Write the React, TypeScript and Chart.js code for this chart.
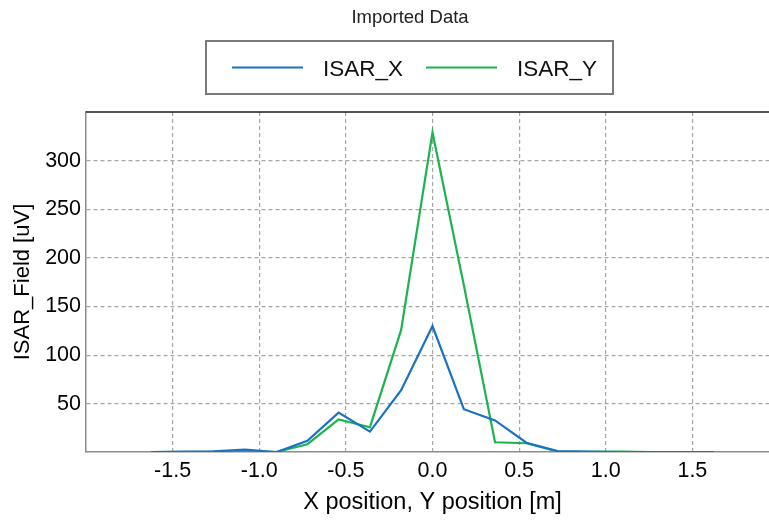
import React, { useEffect, useRef } from 'react';
import { Chart, registerables } from 'chart.js';

Chart.register(...registerables);

const chartTitle = 'Imported Data';
const seriesLabels = ['ISAR_X', 'ISAR_Y'];
const seriesColors = ['#1a72c2', '#1db34f'];
const xPositions = [-1.625, -1.444, -1.264, -1.083, -0.903, -0.722, -0.542, -0.361, -0.181, 0, 0.181, 0.361, 0.542, 0.722, 0.903, 1.083, 1.264, 1.444, 1.625];
const isarX = [0.5, 0.8, 1.2, 3.0, 0.3, 12, 41, 21.5, 64, 130, 44.5, 33, 10, 1.5, 0.8, 0.5, 0.4, 0.3, 0.3];
const isarY = [0.3, 0.5, 0.7, 1.5, 0.4, 8.5, 34, 26, 126, 329, 172, 10.5, 9.5, 1, 0.6, 0.8, 0.4, 0.3, 0.3];
const xTicks = [-1.5, -1.0, -0.5, 0.0, 0.5, 1.0, 1.5];
const yTicks = [50, 100, 150, 200, 250, 300];
const xTitle = 'X position, Y position [m]';
const yTitle = 'ISAR_Field [uV]';

const FONT = 'Arial, "Liberation Sans", sans-serif';

const framePlugin = {
  id: 'frameLegend',
  afterDraw(chart: any) {
    const ctx = chart.ctx;
    const a = chart.chartArea;
    ctx.save();
    // top frame line
    ctx.strokeStyle = '#1a1a1a';
    ctx.lineWidth = 1.5;
    ctx.beginPath();
    ctx.moveTo(a.left, a.top);
    ctx.lineTo(a.right, a.top);
    ctx.stroke();
    // title
    ctx.font = '18.5px ' + FONT;
    ctx.fillStyle = '#222';
    ctx.textAlign = 'center';
    ctx.textBaseline = 'alphabetic';
    ctx.fillText(chartTitle, 410, 22.5);
    // legend box
    ctx.strokeStyle = '#7a7a7a';
    ctx.lineWidth = 2;
    ctx.strokeRect(206, 41, 407, 53);
    // legend items
    ctx.font = '22.5px ' + FONT;
    ctx.textAlign = 'left';
    let x = 232;
    chart.data.datasets.forEach((ds: any) => {
      ctx.strokeStyle = ds.borderColor;
      ctx.lineWidth = 2.2;
      ctx.beginPath();
      ctx.moveTo(x, 67.5);
      ctx.lineTo(x + 71, 67.5);
      ctx.stroke();
      ctx.fillStyle = '#111';
      ctx.fillText(ds.label, x + 91, 75.5);
      x += 91 + ctx.measureText(ds.label).width + 23;
    });
    ctx.restore();
  },
};

export default function App() {
  const ref = useRef<HTMLCanvasElement>(null);
  useEffect(() => {
    if (!ref.current) return;
    const chart = new Chart(ref.current, {
      type: 'line',
      data: {
        datasets: [
          {
            label: seriesLabels[0],
            data: xPositions.map((x, i) => ({ x, y: isarX[i] })),
            borderColor: seriesColors[0],
            backgroundColor: seriesColors[0],
            borderWidth: 2.2,
            pointRadius: 0,
            tension: 0,
          },
          {
            label: seriesLabels[1],
            data: xPositions.map((x, i) => ({ x, y: isarY[i] })),
            borderColor: seriesColors[1],
            backgroundColor: seriesColors[1],
            borderWidth: 2.2,
            pointRadius: 0,
            tension: 0,
          },
        ],
      },
      options: {
        responsive: false,
        animation: false,
        layout: { padding: { top: 112, left: 0, right: 41, bottom: 0 } },
        plugins: {
          legend: { display: false },
          title: { display: false },
          tooltip: { enabled: false },
        },
        scales: {
          x: {
            type: 'linear',
            min: -2,
            max: 2,
            afterBuildTicks: (s: any) => {
              s.ticks = xTicks.map((v) => ({ value: v }));
            },
            afterFit: (s: any) => {
              s.height = 68;
            },
            ticks: {
              padding: 6,
              color: '#000',
              font: { size: 21.5, family: FONT },
              callback: (v: any) => Number(v).toFixed(1),
              maxRotation: 0,
            },
            grid: { color: '#a6a6a6', lineWidth: 1.2, drawTicks: false },
            border: { color: '#8c8c8c', width: 1.5, dash: [4, 3] },
            title: {
              display: true,
              text: xTitle,
              color: '#000',
              font: { size: 23.5, family: FONT },
              padding: { top: 0, bottom: 3 },
            },
          },
          y: {
            type: 'linear',
            min: 0.5,
            max: 350,
            afterBuildTicks: (s: any) => {
              s.ticks = yTicks.map((v) => ({ value: v }));
            },
            afterFit: (s: any) => {
              s.width = 86;
            },
            ticks: {
              padding: 5,
              color: '#000',
              font: { size: 21.5, family: FONT },
            },
            grid: { color: '#a6a6a6', lineWidth: 1.2, drawTicks: false },
            border: { color: '#8c8c8c', width: 1.5, dash: [4, 3] },
            title: {
              display: true,
              text: yTitle,
              color: '#000',
              font: { size: 22, family: FONT },
              padding: { top: 10, bottom: 0 },
            },
          },
        },
      },
      plugins: [framePlugin],
    } as any);
    return () => chart.destroy();
  }, []);

  return (
    <div style={{ position: 'fixed', left: 0, top: 0, width: 769, height: 520, overflow: 'hidden', background: '#fff' }}>
      <canvas ref={ref} width={820} height={520} style={{ display: 'block', width: 820, height: 520 }} />
    </div>
  );
}
